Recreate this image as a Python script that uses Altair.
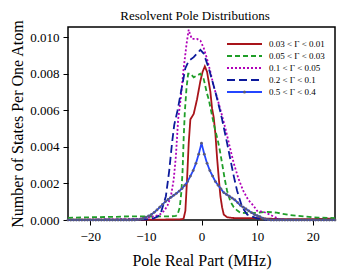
import altair as alt
import pandas as pd

FONT = "Liberation Serif"

chart_title = "Resolvent Pole Distributions"
names = ["0.03 < Γ < 0.01", "0.05 < Γ < 0.03", "0.1 < Γ < 0.05", "0.2 < Γ < 0.1", "0.5 < Γ < 0.4"]
colors = ["#a8141a", "#1f9e28", "#b000b8", "#0c1a9c", "#2446ff"]
dashes = [[1, 0], [5, 3], [2, 2], [8, 4], [1, 0]]

red_x = [-24, -10, -4, -3.4, -3.2, -2.9, -2.6, -2.3, -2.0, -1.8, -1.4, -0.8, -0.2, 0.2, 0.6, 1.0,
         1.6, 1.9, 2.2, 2.5, 2.8, 3.1, 3.4, 3.7, 4.0, 4.6, 6, 10, 14, 20, 24]
red_y = [0.00002, 0.00002, 0.00003, 0.00005, 0.0001, 0.0005, 0.0022, 0.0042, 0.0055, 0.0056, 0.0058,
         0.0066, 0.0076, 0.0081, 0.0084, 0.0081, 0.0070, 0.0061, 0.0056, 0.0047, 0.0034, 0.0023,
         0.0013, 0.0007, 0.0003, 0.00015, 0.0001, 0.0001, 0.00005, 0.00005, 0.00008]

green_x = [-24, -20, -16, -13, -11, -9, -7, -5.5, -4.6, -4.3, -3.9, -3.6, -3.4, -3.2, -3.0, -2.7,
           -2.4, -2.0, -1.4, -0.8, -0.2, 0.4, 1.0, 1.3, 1.9, 2.4, 2.9, 3.3, 3.7, 4.2, 4.6, 5.2,
           5.8, 6.5, 7, 8.75, 10, 11.7, 13.5, 15.9, 18.9, 21, 24]
green_y = [0.00012, 0.00015, 0.00017, 0.0002, 0.0002, 0.00018, 0.0002, 0.0002, 0.00022, 0.0003,
           0.0007, 0.0016, 0.0027, 0.0045, 0.0059, 0.0072, 0.0080, 0.0080, 0.0078, 0.0079, 0.0080,
           0.0077, 0.0069, 0.0066, 0.0057, 0.0050, 0.0044, 0.0038, 0.0031, 0.0022, 0.0016, 0.0010,
           0.0007, 0.0005, 0.0004, 0.00037, 0.0004, 0.00045, 0.0004, 0.00027, 0.00018, 0.00013, 0.0001]

mag_x = [-24, -12, -10, -8.5, -7.5, -6.7, -6.1, -5.5, -5.0, -4.6, -4.2, -3.75, -3.2, -2.7, -2.3,
         -2.0, -1.7, -1.2, -0.8, -0.2, 0.4, 1.0, 1.6, 2.2, 2.8, 3.7, 4.3, 5.0, 5.8, 6.6, 7.5, 8.4,
         9.3, 10, 11.1, 12.3, 12.9, 14, 16, 24]
mag_y = [0.0, 0.00005, 0.0001, 0.0002, 0.0003, 0.0005, 0.0008, 0.0013, 0.0022, 0.0035, 0.0055,
         0.0066, 0.0083, 0.0096, 0.0104, 0.0101, 0.0099, 0.0099, 0.0099, 0.0098, 0.0094, 0.0088,
         0.0081, 0.0073, 0.0067, 0.0057, 0.0050, 0.0041, 0.0031, 0.0023, 0.0016, 0.0011, 0.0008,
         0.0005, 0.00045, 0.0003, 0.0002, 0.00005, 0.0, 0.0]

dblue_x = [-24, -10, -8.5, -7.8, -7.3, -6.9, -6.4, -5.8, -5.3, -4.9, -4.3, -3.75, -2.9, -2.3, -1.4,
           -0.8, -0.2, 0.4, 1.3, 2.5, 3.4, 3.7, 4.6, 5.2, 5.8, 6.4, 7.3, 8.2, 9.0, 9.9, 11, 24]
dblue_y = [0.0, 0.00003, 0.0001, 0.0002, 0.0004, 0.0008, 0.0013, 0.0027, 0.0042, 0.0052, 0.0060,
           0.0069, 0.0083, 0.0087, 0.0089, 0.0091, 0.0093, 0.0091, 0.0083, 0.0070, 0.0059, 0.0055,
           0.0042, 0.0033, 0.0024, 0.0016, 0.0007, 0.0003, 0.0002, 0.0001, 0.00002, 0.0]

blue_x = [-24, -23.5, -23, -22.5, -22, -21.5, -21, -20.5, -20, -19.5, -19, -18.5, -18, -17.5, -17,
          -16.5, -16, -15.5, -15, -14.5, -14, -13.5, -13, -12.5, -12, -11.5, -11, -10.5, -10, -9.5,
          -9, -8.5, -8, -7.5, -7, -6.5, -6, -5.5, -5, -4.5, -4, -3.5, -3, -2.5, -2, -1.5, -1, -0.5,
          0, 0.5, 1, 1.5, 2, 2.5, 3, 3.5, 4, 4.5, 5, 5.5, 6, 6.5, 7, 7.5, 8, 8.5, 9, 9.5, 10, 10.5,
          11, 11.5, 12, 12.5, 13, 13.5, 14, 14.5, 15, 15.5, 16, 16.5, 17, 17.5, 18, 18.5, 19, 19.5,
          20, 20.5, 21, 21.5, 22, 22.5, 23, 23.5, 24]
blue_y = [0, 0, 0, 0, 0, 0, 0, 0, 0, 0, 0, 0, 0, 0, 0, 0, 0, 0, 0, 0, 0, 0, 0, 0, 0,
          0.00002, 0.00004, 0.00008, 0.00015, 0.00022, 0.0003, 0.00042, 0.00055, 0.0007, 0.00085,
          0.0010, 0.00112, 0.00124, 0.00135, 0.00146, 0.00158, 0.00172, 0.0019, 0.0021, 0.0024,
          0.0027, 0.0031, 0.0036, 0.0042, 0.0036, 0.0031, 0.0027, 0.0024, 0.0021, 0.0019, 0.0017,
          0.0015, 0.0014, 0.0013, 0.0012, 0.0011, 0.00095, 0.0008, 0.0007, 0.0006, 0.0005, 0.0004,
          0.0003, 0.00024, 0.00018, 0.0001, 0.00005, 0.00002,
          0, 0, 0, 0, 0, 0, 0, 0, 0, 0, 0, 0, 0, 0, 0, 0, 0, 0, 0, 0, 0, 0, 0, 0]

xs = [red_x, green_x, mag_x, dblue_x, blue_x]
ys = [red_y, green_y, mag_y, dblue_y, blue_y]

xscale = alt.Scale(domain=[-24, 24], nice=False, zero=False)
yscale = alt.Scale(domain=[0, 0.01055], nice=False)

xaxis = alt.Axis(values=[-20, -10, 0, 10, 20], title="Pole Real Part (MHz)",
                 labelPadding=5, titlePadding=9)
yaxis = alt.Axis(values=[0, 0.002, 0.004, 0.006, 0.008, 0.010], format=".3f",
                 title="Number of States Per One Atom", labelPadding=4, titlePadding=4)

layers = []
for i, name in enumerate(names):
    df = pd.DataFrame({"x": xs[i], "y": ys[i], "s": name})
    enc = dict(x=alt.X("x:Q", scale=xscale, axis=xaxis),
               y=alt.Y("y:Q", scale=yscale, axis=yaxis))
    layers.append(alt.Chart(df).mark_line(color=colors[i], strokeWidth=1.8,
                                          strokeDash=dashes[i]).encode(**enc))
    if i == 4:
        layers.append(alt.Chart(df).mark_point(filled=True, size=8, color="#5a5a78",
                                               opacity=1).encode(**enc))

# legend
for i, name in enumerate(names):
    ly = 17 + 12 * i
    ldf = pd.DataFrame({"label": [name]})
    layers.append(alt.Chart(ldf).mark_rule(color=colors[i], strokeWidth=1.8,
                                           strokeDash=dashes[i]).encode(
        x=alt.value(159), x2=alt.value(194), y=alt.value(ly)))
    if i == 4:
        layers.append(alt.Chart(ldf).mark_point(filled=True, size=9, color="#5a5a78",
                                                opacity=1).encode(
            x=alt.value(176.5), y=alt.value(ly)))
    layers.append(alt.Chart(ldf).mark_text(align="left", baseline="middle", fontSize=9,
                                           font=FONT, color="black").encode(
        x=alt.value(201), y=alt.value(ly), text="label:N"))

# chart title as a text mark placed above the plot
tdf = pd.DataFrame({"t": [chart_title]})
layers.append(alt.Chart(tdf).mark_text(align="center", baseline="alphabetic", fontSize=13,
                                       font=FONT, color="black").encode(
    x=alt.value(127), y=alt.value(-7), text="t:N"))

chart = alt.layer(*layers).properties(
    width=267, height=193,
    autosize=alt.AutoSizeParams(type="none"),
    padding={"left": 60, "top": 19, "right": 6, "bottom": 54},
    background="white",
).configure_view(stroke="black", strokeWidth=1.5).configure_axis(
    grid=False, domain=False, tickSize=5, tickColor="black", tickWidth=1,
    labelFont=FONT, labelFontSize=13, labelColor="black",
    titleFont=FONT, titleFontSize=16, titleFontWeight="normal", titleColor="black",
)

chart.save("out.html", embed_options={"renderer": "svg", "actions": False})
